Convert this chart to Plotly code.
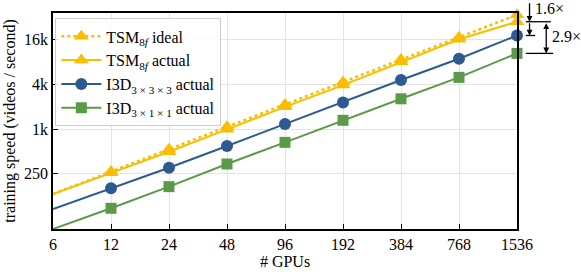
import math
import plotly.graph_objects as go

# ---- data ----
gpus = [6, 12, 24, 48, 96, 192, 384, 768, 1536]
gpu_labels = ["6", "12", "24", "48", "96", "192", "384", "768", "1536"]
tsm_ideal = [134, 268, 536, 1072, 2144, 4288, 8576, 17152, 34304]
tsm_actual = [134, 259, 495, 990, 1990, 3900, 8000, 16100, 27700]
i3d_333 = [84, 160, 302, 591, 1170, 2280, 4560, 8810, 18100]
i3d_111 = [45.3, 86, 168, 339, 662, 1310, 2550, 4950, 10400]
ytick_vals = [250, 1000, 4000, 16000]
ytick_text = ["250", "1k", "4k", "16k"]
ratio_labels = ["1.6×", "2.9×"]

YELLOW = "#F9BE00"
BLUE = "#2E5A92"
GREEN = "#5B9A48"
FONT = "Liberation Serif, Times New Roman, Times, DejaVu Serif, serif"

fig = go.Figure()
fig.add_trace(go.Scatter(
    x=gpus, y=tsm_ideal, mode="lines+markers", name="TSM<sub>8<i>f</i></sub> ideal",
    line=dict(color=YELLOW, width=2.5, dash="dot"),
    marker=dict(symbol="triangle-up", size=13, color=YELLOW), cliponaxis=False))
fig.add_trace(go.Scatter(
    x=gpus, y=tsm_actual, mode="lines+markers", name="TSM<sub>8<i>f</i></sub> actual",
    line=dict(color=YELLOW, width=2),
    marker=dict(symbol="triangle-up", size=13, color=YELLOW), cliponaxis=False))
fig.add_trace(go.Scatter(
    x=gpus, y=i3d_333, mode="lines+markers", name="I3D<sub>3 × 3 × 3</sub> actual",
    line=dict(color=BLUE, width=2),
    marker=dict(symbol="circle", size=12, color=BLUE), cliponaxis=False))
fig.add_trace(go.Scatter(
    x=gpus, y=i3d_111, mode="lines+markers", name="I3D<sub>3 × 1 × 1</sub> actual",
    line=dict(color=GREEN, width=2),
    marker=dict(symbol="square", size=11, color=GREEN), cliponaxis=False))

yrange = [math.log10(45.3), 4.56]

axis_common = dict(
    showline=True, linecolor="black", linewidth=1.5, mirror=True,
    ticks="inside", ticklen=5, tickwidth=1.2, tickcolor="black",
    showgrid=True, gridcolor="#e3e3e3", gridwidth=1, zeroline=False,
    tickfont=dict(family=FONT, size=16, color="black"),
    automargin=False,
)

fig.update_xaxes(type="log", range=[math.log10(gpus[0]), math.log10(gpus[-1])],
                 tickvals=gpus, ticktext=gpu_labels,
                 title=dict(text="# GPUs", font=dict(family=FONT, size=16, color="black"), standoff=2),
                 **axis_common)
fig.update_yaxes(type="log", range=yrange, tickvals=ytick_vals, ticktext=ytick_text,
                 title=dict(text="training speed (videos / second)",
                            font=dict(family=FONT, size=16, color="black"), standoff=4),
                 **axis_common)

# ---- ratio annotations at the right of the plot ----
ly_tsm = math.log10(tsm_actual[-1])
ly_333 = math.log10(i3d_333[-1])
ly_111 = math.log10(i3d_111[-1])

def ypaper(ly):
    return (ly - yrange[0]) / (yrange[1] - yrange[0])

shapes = []
for ly, x1 in [(ly_tsm, 1.073), (ly_333, 1.039), (ly_111, 1.078)]:
    shapes.append(dict(type="line", xref="paper", yref="paper", x0=1.019, x1=x1,
                       y0=ypaper(ly), y1=ypaper(ly), line=dict(color="black", width=1.3)))

annotations = [
    dict(xref="paper", yref="y", x=1.027, y=ly_tsm, ax=0, ay=-20, text="",
         showarrow=True, arrowhead=2, arrowsize=0.9, arrowwidth=1.3, arrowcolor="black"),
    dict(xref="paper", yref="y", x=1.027, y=ly_333, ax=0, ayref="y", ay=ly_tsm, text="",
         showarrow=True, arrowhead=2, arrowsize=0.9, arrowwidth=1.3, arrowcolor="black"),
    dict(xref="paper", yref="y", x=1.063, y=ly_111, ax=0, ayref="y", ay=ly_tsm, text="",
         showarrow=True, arrowhead=2, startarrowhead=2, arrowside="end+start",
         arrowsize=0.9, startarrowsize=0.9, arrowwidth=1.3, arrowcolor="black"),
    dict(xref="paper", yref="paper", x=1.034, y=1.023, xanchor="left", yanchor="middle",
         text=ratio_labels[0], showarrow=False, font=dict(family=FONT, size=16, color="black")),
    dict(xref="paper", yref="paper", x=1.071, y=0.889, xanchor="left", yanchor="middle",
         text=ratio_labels[1], showarrow=False, font=dict(family=FONT, size=16, color="black")),
]

fig.update_layout(
    width=581, height=272,
    margin=dict(l=53, r=64, t=13, b=43),
    paper_bgcolor="white", plot_bgcolor="white",
    showlegend=True,
    legend=dict(x=0.005, y=0.975, xanchor="left", yanchor="top",
                bgcolor="rgba(255,255,255,0.85)", bordercolor="#cccccc", borderwidth=1,
                font=dict(family=FONT, size=16, color="black"),
                itemwidth=40, tracegroupgap=0),
    shapes=shapes, annotations=annotations,
    font=dict(family=FONT, size=16, color="black"),
)

fig.write_html("out.html", config={"displayModeBar": False},
               post_script="document.body.style.margin='0px';")
